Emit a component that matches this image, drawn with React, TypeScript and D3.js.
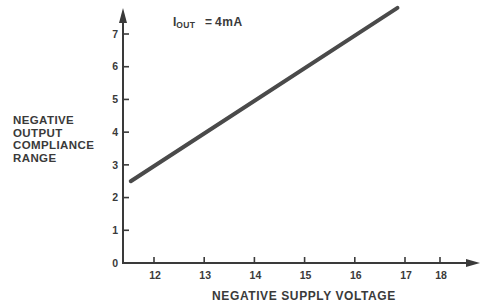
import * as d3 from "d3";

// data
const xTicks = [12, 13, 14, 15, 16, 17, 18];
const yTicks = [0, 1, 2, 3, 4, 5, 6, 7];
const lineX = [11.55, 16.85];
const lineY = [2.5, 7.8];
const yTitle = ["NEGATIVE", "OUTPUT", "COMPLIANCE", "RANGE"];
const xTitle = "NEGATIVE SUPPLY VOLTAGE";

const width = 486;
const height = 303;
const ink = "#3a3a3a";
const font = "'Liberation Sans', Arial, sans-serif";

export default function App() {
    // the original graph spaces 17 → 18 tighter than the rest
    const x = d3.scaleLinear().domain([11.4, 12, 17, 18]).range([123, 154, 405, 440]);
    const y = d3.scaleLinear().domain([0, 7]).range([263, 34]);

    const pts: [number, number][] = lineX.map((v, i) => [v, lineY[i]]);
    const line = d3.line<[number, number]>()
        .x(d => x(d[0]))
        .y(d => y(d[1]));

    const x0 = x(11.4);
    const y0 = y(0);
    const yTop = 8;
    const xRight = 480;

    return <svg width={width} height={height} viewBox={`0 0 ${width} ${height}`}
                style={{position: "absolute", left: 0, top: 0, background: "#fff"}}>
        <g fontFamily={font} fontWeight="bold" fill={ink}>
            {/* axes */}
            <line x1={x0} y1={y0 + 1} x2={x0} y2={yTop + 10} stroke={ink} strokeWidth={2}/>
            <path d={`M${x0 - 4},${yTop + 15} L${x0},${yTop} L${x0 + 4},${yTop + 15} Z`} fill={ink}/>
            <line x1={x0 - 1} y1={y0} x2={xRight - 10} y2={y0} stroke={ink} strokeWidth={2}/>
            <path d={`M${xRight - 14},${y0 - 4} L${xRight},${y0} L${xRight - 14},${y0 + 4} Z`} fill={ink}/>

            {yTicks.map(t => <g key={"y" + t}>
                {t > 0 && <line x1={x0} x2={x0 + 6} y1={y(t)} y2={y(t)} stroke={ink} strokeWidth={1.6}/>}
                <text x={x0 - 5} y={y(t)} dy="0.36em" textAnchor="end" fontSize={10.5}>{t}</text>
            </g>)}

            {xTicks.map(t => <g key={"x" + t}>
                <line x1={x(t)} x2={x(t)} y1={y0} y2={y0 - 6} stroke={ink} strokeWidth={1.6}/>
                <text x={x(t) + 1} y={y0 + 16} textAnchor="middle" fontSize={10.5}>{t}</text>
            </g>)}

            {/* titles */}
            <text x={304} y={300} textAnchor="middle" fontSize={12} letterSpacing={0.6}>{xTitle}</text>
            {yTitle.map((s, i) =>
                <text key={s} x={13} y={124 + i * 12.5} fontSize={11.5} letterSpacing={0.4}>{s}</text>)}

            <text x={173} y={26} fontSize={12}>
                I<tspan fontSize={8.5} dy={2} letterSpacing={0.3}>OUT</tspan>
                <tspan dy={-2} x={205}>=</tspan>
                <tspan x={215} letterSpacing={0.6}>4mA</tspan>
            </text>

            {/* data line */}
            <path d={line(pts) ?? ""} fill="none" stroke="#4a4a4a" strokeWidth={4} strokeLinecap="round"/>
        </g>
    </svg>;
}
